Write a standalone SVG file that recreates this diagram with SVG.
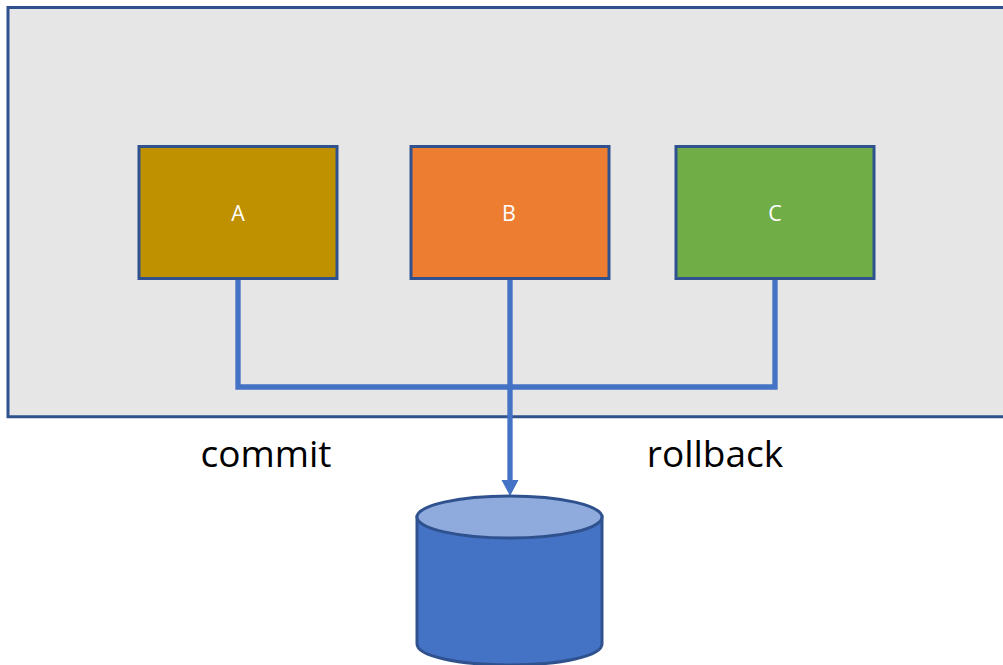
<svg xmlns="http://www.w3.org/2000/svg" width="1003" height="665" viewBox="0 0 1003 665">
<style>
.box{stroke:#2F528F;stroke-width:3}
.wire{fill:none;stroke:#4472C4;stroke-width:5.300}
.lbl{font-family:"Open Sans","Noto Sans",sans-serif;font-size:21.500px;fill:#fff;text-anchor:middle}
.big{font-family:"Open Sans","Noto Sans",sans-serif;font-size:37px;fill:#000;text-anchor:middle}
</style>
<rect width="1003" height="665" fill="#fff"/>
<g id="container"><path d="M1004 7.500H8V416.700H1004" fill="#E6E6E6" stroke="#2F528F" stroke-width="3"/></g>
<g id="connectors">
<path class="wire" d="M238 278V387H775V278"/>
<path class="wire" d="M510 278V481"/>
<path d="M501.500 480H518.500L510 496Z" fill="#4472C4"/>
</g>
<g id="node-a"><rect class="box" x="139" y="146.500" width="198" height="132" fill="#BF9000"/><text class="lbl" x="238" y="220.500">A</text></g>
<g id="node-b"><rect class="box" x="411" y="146.500" width="198" height="132" fill="#ED7D31"/><text class="lbl" x="509" y="220.500">B</text></g>
<g id="node-c"><rect class="box" x="676" y="146.500" width="198" height="132" fill="#70AD47"/><text class="lbl" x="775" y="220.500">C</text></g>
<g id="label-commit"><text class="big" x="266" y="467">commit</text></g>
<g id="label-rollback"><text class="big" x="715" y="467">rollback</text></g>
<g id="database">
<path class="box" d="M417 517V644C417 656 458 665 510 665C561 665 602 656 602 644V517Z" fill="#4472C4"/>
<ellipse class="box" cx="509.500" cy="517" rx="92.500" ry="21" fill="#8FAADC"/>
</g>
</svg>
